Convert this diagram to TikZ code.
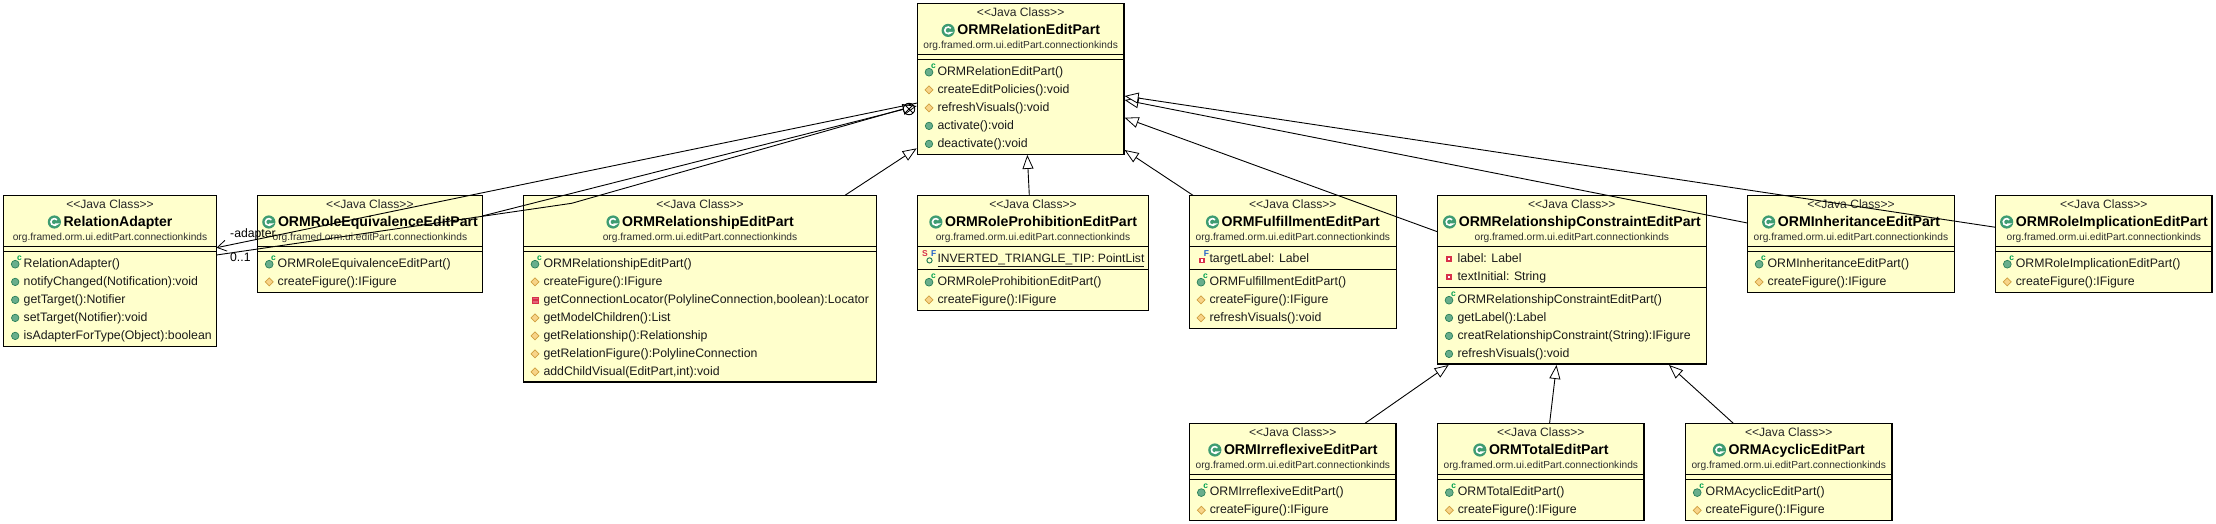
\documentclass[tikz,border=0pt]{standalone}
\usepackage{fontspec}
\setmainfont{Liberation Sans}
\usetikzlibrary{arrows.meta}
\definecolor{boxfill}{HTML}{FFFFCC}
\definecolor{iconGreen}{HTML}{3E9C72}
\definecolor{iconGreenL}{HTML}{69AE8C}
\definecolor{iconDark}{HTML}{2A8059}
\definecolor{ctorGreen}{HTML}{00A050}
\definecolor{iconOrange}{HTML}{F8D488}
\definecolor{iconOrangeD}{HTML}{D0A040}
\definecolor{iconRed}{HTML}{D8304A}
\definecolor{iconBlue}{HTML}{2060C8}
\definecolor{pkgGray}{HTML}{303030}
\newcounter{nid}
\tikzset{
  classbox/.style={draw=black,line width=1.1pt,fill=boxfill,inner sep=0pt,outer sep=0pt,anchor=north west},
  divline/.style={draw=black,line width=1pt},
  stereotxt/.style={inner sep=0pt,anchor=base,font=\fontsize{12.1}{14}\selectfont,text=black!85},
  nametxt/.style={inner sep=0pt,anchor=base,font=\fontsize{14.1}{16}\selectfont\bfseries},
  pkgtxt/.style={inner sep=0pt,anchor=base,font=\fontsize{10.2}{12}\selectfont,text=pkgGray},
  rowtxt/.style={inner sep=0pt,anchor=base west,font=\fontsize{12.3}{14}\selectfont,text=black!90},
  lbltxt/.style={inner sep=0pt,anchor=base west,font=\fontsize{12.2}{14}\selectfont},
  smallc/.style={inner sep=0pt,font=\fontsize{8.5}{9}\selectfont\bfseries},
  conn/.style={draw=black,line width=0.9pt},
  gen/.style={conn,-{Triangle[length=14pt,width=11pt,fill=white,line width=0.8pt]}},
  assoc/.style={conn,-{Straight Barb[length=9pt,width=11pt,line width=0.8pt]}}
}
% icons
\newcommand{\icPub}[2]{\fill[iconGreenL,draw=iconDark,line width=0.7pt] (#1,#2) circle (3.7);}
\newcommand{\icProt}[2]{\fill[iconOrange,draw=iconOrangeD,line width=0.7pt] (#1-4,#2) -- (#1,#2-4) -- (#1+4,#2) -- (#1,#2+4) -- cycle;}
\newcommand{\icPriv}[2]{\fill[iconRed!75,draw=iconRed,line width=0.7pt] (#1-3,#2-3) rectangle (#1+3,#2+3);\fill[iconRed] (#1-2.5,#2-0.6) rectangle (#1+2.5,#2+0.6);}
\newcommand{\icCtor}[2]{\fill[iconGreenL,draw=iconDark,line width=0.7pt] (#1,#2+0.3) circle (3.9);
  \stepcounter{nid}\node[smallc,text=ctorGreen] (ic\thenid) at (#1+4.4,#2-5.6) {c};}
\newcommand{\icFld}[2]{\fill[white,draw=iconRed,line width=1.2pt] (#1-2,#2-2) rectangle (#1+2,#2+2);}
\newcommand{\icFin}[2]{\fill[white,draw=iconRed,line width=1.2pt] (#1-1,#2-0.5) rectangle (#1+3,#2+3.5);
  \stepcounter{nid}\node[smallc,text=iconBlue] (ic\thenid) at (#1+5.5,#2-5) {F};}
\newcommand{\icStat}[2]{\draw[iconDark,line width=1pt] (#1+0.5,#2+1.5) circle (2.6);
  \stepcounter{nid}\node[smallc,text=iconRed] (ic\thenid) at (#1-4,#2-5) {S};
  \stepcounter{nid}\node[smallc,text=iconBlue] (ic\thenid) at (#1+4.7,#2-5.5) {F};}
% class box: name, x1, y1, x2, y2, title
\newcommand{\cls}[6]{%
  \def\bx{#2}\def\by{#3}%
  \node[classbox,minimum width={#4-#2},minimum height={#5-#3}] (#1) at (#2,#3) {};
  \node[stereotxt] (#1st) at ({(#2+#4)/2},#3+13) {<{}<Java Class>{}>};
  \node[nametxt] (#1nm) at ({(#2+#4)/2+8},#3+31.3) {#6};
  \fill[iconGreen] ([shift={(-9pt,4.6pt)}]#1nm.base west) circle (6.6pt);
  \draw[white,line width=1.6pt] ([shift={(-9pt,4.6pt)}]#1nm.base west) ++(40:3.4pt) arc (40:320:3.4pt) -- +(-2.2pt,0);
  \node[pkgtxt] (#1pk) at ({(#2+#4)/2},#3+45.3) {org.framed.orm.ui.editPart.connectionkinds};
}
\newcommand{\dv}[2]{\draw[divline] ([yshift=-#2pt]#1.north west) -- ([yshift=-#2pt]#1.north east);}
% row: divider offset from box top, index, icon macro, text
\newcommand{\mrow}[4]{%
  \stepcounter{nid}
  \node[rowtxt] (r\thenid) at (\bx+20,\by+#1+16+18*#2) {#4};
  #3{\bx+11.7}{\by+#1+16+18*#2-3.4}
}
\begin{document}
\begin{tikzpicture}[x=1pt,y=-1pt]
\useasboundingbox (0,0) rectangle (2216,524);
% ---- ORMRelationEditPart
\cls{rel}{917.3}{3.7}{1124}{154.3}{ORMRelationEditPart}
\dv{rel}{50.6}\dv{rel}{55.6}
\mrow{55.6}{0}{\icCtor}{ORMRelationEditPart()}
\mrow{55.6}{1}{\icProt}{createEditPolicies():void}
\mrow{55.6}{2}{\icProt}{refreshVisuals():void}
\mrow{55.6}{3}{\icPub}{activate():void}
\mrow{55.6}{4}{\icPub}{deactivate():void}
% ---- RelationAdapter
\cls{adapter}{3.5}{195.3}{216.5}{346.3}{RelationAdapter}
\dv{adapter}{51}\dv{adapter}{56}
\mrow{56}{0}{\icCtor}{RelationAdapter()}
\mrow{56}{1}{\icPub}{notifyChanged(Notification):void}
\mrow{56}{2}{\icPub}{getTarget():Notifier}
\mrow{56}{3}{\icPub}{setTarget(Notifier):void}
\mrow{56}{4}{\icPub}{isAdapterForType(Object):boolean}
% ---- ORMRoleEquivalenceEditPart
\cls{equiv}{257.5}{195.3}{482.3}{292.3}{ORMRoleEquivalenceEditPart}
\dv{equiv}{51}\dv{equiv}{56}
\mrow{56}{0}{\icCtor}{ORMRoleEquivalenceEditPart()}
\mrow{56}{1}{\icProt}{createFigure():IFigure}
% ---- ORMRelationshipEditPart
\cls{ship}{523.3}{195.3}{876.7}{382}{ORMRelationshipEditPart}
\dv{ship}{51}\dv{ship}{56}
\mrow{56}{0}{\icCtor}{ORMRelationshipEditPart()}
\mrow{56}{1}{\icProt}{createFigure():IFigure}
\mrow{56}{2}{\icPriv}{getConnectionLocator(PolylineConnection,boolean):Locator}
\mrow{56}{3}{\icProt}{getModelChildren():List}
\mrow{56}{4}{\icProt}{getRelationship():Relationship}
\mrow{56}{5}{\icProt}{getRelationFigure():PolylineConnection}
\mrow{56}{6}{\icProt}{addChildVisual(EditPart,int):void}
% ---- ORMRoleProhibitionEditPart
\cls{prohib}{917.3}{195.3}{1148.7}{310.3}{ORMRoleProhibitionEditPart}
\dv{prohib}{51}\dv{prohib}{74}
\mrow{51}{0}{\icStat}{\fontsize{12.1}{14}\selectfont\underline{INVERTED\_TRIANGLE\_TIP: PointList}}
\mrow{74}{0}{\icCtor}{ORMRoleProhibitionEditPart()}
\mrow{74}{1}{\icProt}{createFigure():IFigure}
% ---- ORMFulfillmentEditPart
\cls{fulfil}{1189.3}{195.3}{1396.3}{328.3}{ORMFulfillmentEditPart}
\dv{fulfil}{51}\dv{fulfil}{74}
\mrow{51}{0}{\icFin}{targetLabel: Label}
\mrow{74}{0}{\icCtor}{ORMFulfillmentEditPart()}
\mrow{74}{1}{\icProt}{createFigure():IFigure}
\mrow{74}{2}{\icProt}{refreshVisuals():void}
% ---- ORMRelationshipConstraintEditPart
\cls{constr}{1437.3}{195.3}{1706.3}{364}{ORMRelationshipConstraintEditPart}
\dv{constr}{51}\dv{constr}{92}
\mrow{51}{0}{\icFld}{label: Label}
\mrow{51}{1}{\icFld}{textInitial: String}
\mrow{92}{0}{\icCtor}{ORMRelationshipConstraintEditPart()}
\mrow{92}{1}{\icPub}{getLabel():Label}
\mrow{92}{2}{\icPub}{creatRelationshipConstraint(String):IFigure}
\mrow{92}{3}{\icPub}{refreshVisuals():void}
% ---- ORMInheritanceEditPart
\cls{inher}{1747.4}{195.3}{1954.5}{292.3}{ORMInheritanceEditPart}
\dv{inher}{51}\dv{inher}{56}
\mrow{56}{0}{\icCtor}{ORMInheritanceEditPart()}
\mrow{56}{1}{\icProt}{createFigure():IFigure}
% ---- ORMRoleImplicationEditPart
\cls{impl}{1995.6}{195.3}{2212}{292.3}{ORMRoleImplicationEditPart}
\dv{impl}{51}\dv{impl}{56}
\mrow{56}{0}{\icCtor}{ORMRoleImplicationEditPart()}
\mrow{56}{1}{\icProt}{createFigure():IFigure}
% ---- bottom row
\cls{irr}{1189.6}{423.3}{1396}{520.3}{ORMIrreflexiveEditPart}
\dv{irr}{51.4}\dv{irr}{56.4}
\mrow{56.4}{0}{\icCtor}{ORMIrreflexiveEditPart()}
\mrow{56.4}{1}{\icProt}{createFigure():IFigure}
\cls{total}{1437.6}{423.3}{1644}{520.3}{ORMTotalEditPart}
\dv{total}{51.4}\dv{total}{56.4}
\mrow{56.4}{0}{\icCtor}{ORMTotalEditPart()}
\mrow{56.4}{1}{\icProt}{createFigure():IFigure}
\cls{acyc}{1685.5}{423.3}{1892}{520.3}{ORMAcyclicEditPart}
\dv{acyc}{51.4}\dv{acyc}{56.4}
\mrow{56.4}{0}{\icCtor}{ORMAcyclicEditPart()}
\mrow{56.4}{1}{\icProt}{createFigure():IFigure}
% ---- connectors
\draw[gen] ([xshift=112pt]prohib.north west) -- ([xshift=110pt,yshift=-0.6pt]rel.south west);
\draw[gen] ([xshift=3.7pt]fulfil.north west) -- ([yshift=4.3pt,xshift=0.6pt]rel.south east);
\draw[gen] ([yshift=-36.4pt]constr.north west) -- ([yshift=-114pt,xshift=0.6pt]rel.north east);
\draw[gen] ([yshift=-27.7pt]inher.north west) -- ([yshift=-96.3pt,xshift=0.6pt]rel.north east);
\draw[gen] ([yshift=-32pt]impl.north west) -- ([yshift=-92.3pt,xshift=0.6pt]rel.north east);
\draw[gen] ([xshift=-31.7pt]ship.north east) -- ([yshift=6pt,xshift=-0.6pt]rel.south west);
\draw[gen] ([yshift=-20.7pt]equiv.north east) -- ([yshift=-102.3pt,xshift=-0.6pt]rel.north west);
\draw[assoc] ([yshift=-99.3pt]rel.north west) -- ([yshift=-52.4pt]adapter.north east);
\coordinate (nestbend) at (571.7,203.3);
\node[draw=black,line width=0.9pt,circle,minimum size=11.5pt,inner sep=0pt,outer sep=0pt] (nestmark) at ([shift={(-8.3pt,-105.3pt)}]rel.north west) {};
\draw[conn] ([yshift=-59.7pt]adapter.north east) -- (nestbend) -- (nestmark.west);
\draw[conn] (nestmark.south west) -- (nestmark.north east);
\draw[conn] (nestmark.north west) -- (nestmark.south east);
\draw[gen] ([xshift=175.4pt]irr.north west) -- ([xshift=11.3pt,yshift=-1pt]constr.south west);
\draw[gen] ([xshift=112pt]total.north west) -- ([xshift=119.2pt,yshift=-1pt]constr.south west);
\draw[gen] ([xshift=47.8pt]acyc.north west) -- ([xshift=-37.3pt,yshift=-1pt]constr.south east);
% ---- association labels
\node[lbltxt] (adapterlbl) at (230,237.5) {-adapter};
\node[lbltxt] (multlbl) at (230,261) {0..1};
\end{tikzpicture}
\end{document}
